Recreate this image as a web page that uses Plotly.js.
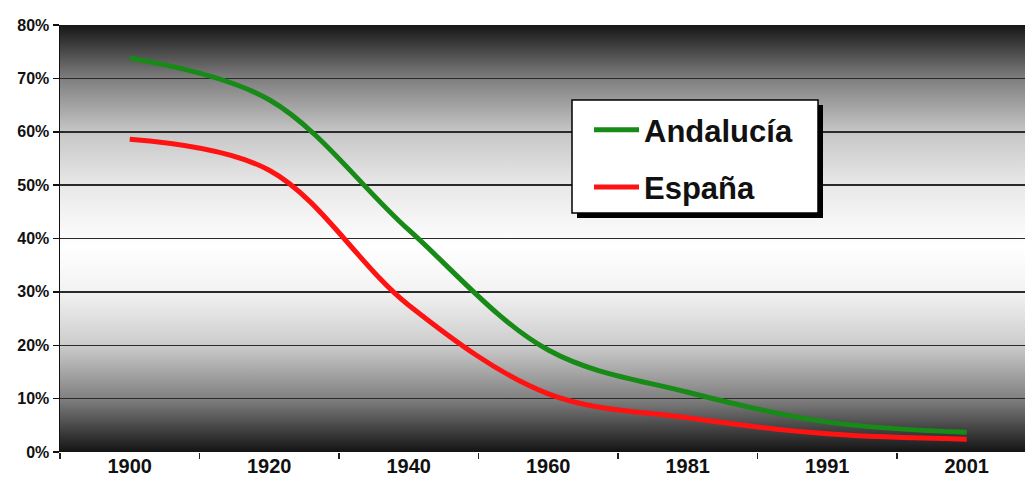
<!DOCTYPE html>
<html>
<head>
<meta charset="utf-8">
<script src="https://cdn.plot.ly/plotly-3.0.1.min.js"></script>
<style>
html,body{margin:0;padding:0;background:#fff;}
#chart{width:1025px;height:500px;}
</style>
</head>
<body>
<div id="chart"></div>
<script>
const years = ["1900", "1920", "1940", "1960", "1981", "1991", "2001"];
const andalucia = [73.8, 66.0, 41.6, 19.1, 11.2, 5.6, 3.7];
const espana = [58.6, 52.8, 27.5, 10.9, 6.4, 3.4, 2.4];
const seriesNames = ["Andalucía", "España"];
const seriesColors = ["#178a17", "#ff1212"];

const gradSvg = '<svg xmlns="http://www.w3.org/2000/svg" width="10" height="100" viewBox="0 0 10 100" preserveAspectRatio="none">' +
  '<defs><linearGradient id="g" x1="0" y1="0" x2="0" y2="1">' +
  '<stop offset="0" stop-color="#161616"/>' +
  '<stop offset="0.125" stop-color="#7e7e7e"/>' +
  '<stop offset="0.25" stop-color="#c6c6c6"/>' +
  '<stop offset="0.375" stop-color="#e8e8e8"/>' +
  '<stop offset="0.52" stop-color="#ffffff"/>' +
  '<stop offset="0.625" stop-color="#f2f2f2"/>' +
  '<stop offset="0.75" stop-color="#cccccc"/>' +
  '<stop offset="0.875" stop-color="#808080"/>' +
  '<stop offset="1" stop-color="#141414"/>' +
  '</linearGradient></defs><rect x="0" y="0" width="10" height="100" fill="url(#g)"/></svg>';
const gradUri = 'data:image/svg+xml;charset=utf-8,' + encodeURIComponent(gradSvg);

const traces = [
  {x: years, y: andalucia, name: seriesNames[0], legendgroup: 'a', type: 'scatter', mode: 'lines',
   line: {color: seriesColors[0], width: 5, shape: 'spline', smoothing: 1}},
  {x: years, y: espana, name: seriesNames[1], legendgroup: 'b', type: 'scatter', mode: 'lines',
   line: {color: seriesColors[1], width: 5, shape: 'spline', smoothing: 1}}
];

const plotW = 965, catW = 139.5;
const px = v => (v - 60) / 965;
const py = v => (452 - v) / 427;
const layout = {
  width: 1025, height: 500,
  margin: {l: 60, r: 0, t: 25, b: 48},
  paper_bgcolor: '#ffffff',
  plot_bgcolor: 'rgba(0,0,0,0)',
  showlegend: true,
  font: {family: 'Liberation Sans, Arial, sans-serif', color: '#111'},
  xaxis: {
    type: 'category',
    range: [-0.5, -0.5 + plotW / catW],
    showgrid: false,
    showline: false,
    ticks: 'outside', tickson: 'boundaries', ticklen: 6, tickwidth: 1.5, tickcolor: '#222',
    tickfont: {size: 20, weight: 'bold', color: '#111'},
    zeroline: false, fixedrange: true
  },
  yaxis: {
    range: [0, 80], dtick: 10, ticksuffix: '%',
    showgrid: true, gridcolor: '#2a2a2a', gridwidth: 1.5,
    showline: true, linecolor: '#111', linewidth: 1.5,
    ticks: 'outside', ticklen: 6, tickwidth: 1.5, tickcolor: '#111',
    tickfont: {size: 16, weight: 'bold', color: '#111'},
    zeroline: false, fixedrange: true
  },
  legend: {
    x: px(589), y: py(103), xanchor: 'left', yanchor: 'top',
    bgcolor: 'rgba(0,0,0,0)', borderwidth: 0,
    font: {size: 31, weight: 'bold', color: '#111'},
    traceorder: 'grouped', tracegroupgap: 14, itemwidth: 45
  },
  images: [{
    source: gradUri, xref: 'paper', yref: 'paper', x: 0, y: 1, sizex: 1, sizey: 1,
    sizing: 'stretch', layer: 'below', xanchor: 'left', yanchor: 'top'
  }],
  shapes: [
    {type: 'rect', xref: 'paper', yref: 'paper', layer: 'above',
     x0: px(577), x1: px(823), y0: py(218), y1: py(105),
     fillcolor: '#000000', line: {width: 0}},
    {type: 'rect', xref: 'paper', yref: 'paper', layer: 'above',
     x0: px(572), x1: px(818), y0: py(213), y1: py(100),
     fillcolor: '#ffffff', line: {width: 1.5, color: '#000000'}}
  ]
};

Plotly.newPlot('chart', traces, layout, {staticPlot: true, displayModeBar: false});
</script>
</body>
</html>
